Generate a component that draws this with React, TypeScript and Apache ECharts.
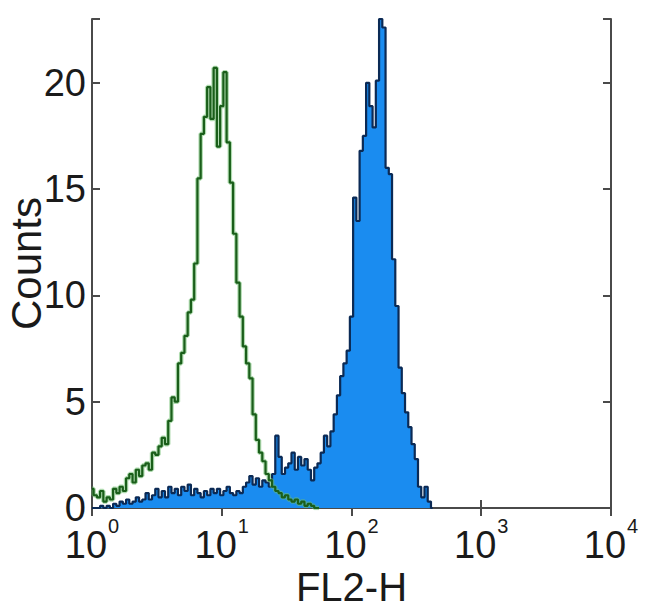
import React, { useEffect, useRef } from "react";
import * as echarts from "echarts";

// Channel grid: FL2-H channels, 40 per decade, starting at 10^0
const CHANNELS_PER_DECADE = 40;

// Isotype control (green outline), counts per channel starting at 10^0
const greenCounts = [
  0.9, 0.6, 0.5, 0.8, 0.3, 0.5, 0.4, 0.9, 0.7, 1.0,
  0.8, 1.4, 1.6, 1.2, 1.8, 1.5, 2.0, 2.1, 1.8, 2.6,
  2.5, 2.9, 3.3, 3.0, 4.1, 5.2, 5.0, 6.8, 7.3, 8.1,
  9.2, 9.8, 11.5, 15.5, 17.6, 18.4, 19.8, 18.3, 20.7, 17.0,
  18.9, 20.5, 17.2, 15.3, 12.9, 10.6, 9.0, 7.6, 6.8, 6.1,
  4.4, 3.2, 2.6, 2.2, 1.6, 1.3, 1.0, 0.8, 0.7, 0.5,
  0.6, 0.4, 0.3, 0.4, 0.2, 0.3, 0.1, 0.2, 0.1, 0, 0,
];

// Stained sample (filled blue), counts per channel starting at 10^0
const blueCounts = [
  0, 0, 0, 0.1, 0, 0.1, 0, 0.2, 0.1, 0.3,
  0.2, 0.4, 0.2, 0.3, 0.5, 0.3, 0.4, 0.7, 0.4, 0.6,
  0.9, 0.5, 0.8, 0.5, 1.0, 0.7, 0.9, 0.6, 1.0, 0.8,
  1.1, 0.6, 0.9, 0.7, 0.5, 0.8, 0.6, 0.9, 0.7, 0.9,
  0.6, 0.8, 1.0, 0.7, 0.6, 0.8, 0.7, 1.0, 1.2, 1.5,
  1.1, 1.4, 1.0, 1.3, 1.2, 1.0, 1.6, 3.4, 2.4, 1.6,
  1.9, 2.1, 2.6, 1.8, 2.4, 2.0, 2.3, 1.8, 1.3, 1.9,
  2.1, 2.6, 3.4, 2.9, 3.6, 4.4, 5.3, 6.2, 6.8, 7.4,
  9.0, 14.6, 13.5, 16.8, 17.5, 20.0, 18.9, 17.9, 20.1, 23.0,
  22.6, 16.0, 15.7, 11.7, 9.5, 6.6, 5.4, 4.5, 3.8, 3.0,
  2.3, 1.0, 0.5, 1.0, 0.3, 0,
];

const yTicks = [0, 5, 10, 15, 20];
const xMin = 1;
const xMax = 10000;
const yMax = 23;

const FONT = "'Liberation Sans', Arial, Helvetica, sans-serif";
const TEXT = "#1a1a1a";
const AXIS = "#4a4a4a";

const toPairs = (counts: number[]) =>
  counts.map((c, i) => [Math.pow(10, i / CHANNELS_PER_DECADE), c]);

export default function App() {
  const ref = useRef<HTMLDivElement>(null);

  useEffect(() => {
    if (!ref.current) return;
    const chart = echarts.init(ref.current, null, { renderer: "svg" });
    const axisLine = { show: true, lineStyle: { color: AXIS, width: 2 } };
    const tick = { show: true, inside: true, length: 8, lineStyle: { color: AXIS, width: 2 } };
    chart.setOption({
      animation: false,
      backgroundColor: "#ffffff",
      grid: {
        left: 92,
        right: 39,
        top: 19,
        bottom: 107,
        containLabel: false,
        outerBoundsMode: "none",
      },
      xAxis: [
        {
          type: "log",
          logBase: 10,
          min: xMin,
          max: xMax,
          interval: 1,
          position: "bottom",
          axisLine,
          axisTick: tick,
          minorTick: { show: false },
          splitLine: { show: false },
          axisLabel: {
            margin: 17,
            hideOverlap: false,
            formatter: (v: number) => `{b|10}{s|${Math.round(Math.log10(v))}}`,
            rich: {
              b: { fontSize: 38, fontFamily: FONT, color: TEXT, lineHeight: 27, padding: [12, 0, 0, 0] },
              s: { fontSize: 20, fontFamily: FONT, color: TEXT, lineHeight: 14, padding: [0, 0, 25, 1] },
            },
          },
          name: "FL2-H",
          nameLocation: "middle",
          nameGap: 59,
          nameMoveOverlap: false,
          nameTextStyle: { fontSize: 40, fontFamily: FONT, color: TEXT },
        },
        {
          type: "log",
          logBase: 10,
          min: xMin,
          max: xMax,
          interval: 1,
          position: "top",
          axisLine,
          axisTick: tick,
          axisLabel: { show: false },
          splitLine: { show: false },
        },
      ],
      yAxis: [
        {
          type: "value",
          min: 0,
          max: yMax,
          interval: 5,
          position: "left",
          axisLine,
          axisTick: tick,
          splitLine: { show: false },
          axisLabel: {
            margin: 6,
            fontSize: 38,
            lineHeight: 28,
            fontFamily: FONT,
            color: TEXT,
            formatter: (v: number) => (yTicks.includes(v) ? String(v) : ""),
          },
          name: "Counts",
          nameLocation: "middle",
          nameGap: 45,
          nameMoveOverlap: false,
          nameTextStyle: { fontSize: 42, fontFamily: FONT, color: TEXT },
        },
        {
          type: "value",
          min: 0,
          max: yMax,
          interval: 5,
          position: "right",
          axisLine,
          axisTick: tick,
          axisLabel: { show: false },
          splitLine: { show: false },
        },
      ],
      series: [
        {
          name: "Stained",
          type: "line",
          step: "middle",
          data: toPairs(blueCounts),
          showSymbol: false,
          symbol: "none",
          lineStyle: { color: "#0b2a55", width: 2.2 },
          areaStyle: { color: "#1a8cf0", opacity: 1 },
          z: 2,
        },
        {
          name: "Isotype halo",
          type: "line",
          step: "middle",
          data: toPairs(greenCounts),
          showSymbol: false,
          symbol: "none",
          lineStyle: { color: "rgba(110,190,110,0.55)", width: 4.5 },
          z: 3,
        },
        {
          name: "Isotype",
          type: "line",
          step: "middle",
          data: toPairs(greenCounts),
          showSymbol: false,
          symbol: "none",
          lineStyle: { color: "#1a5e1a", width: 2.2 },
          z: 4,
        },
      ],
    });
    return () => chart.dispose();
  }, []);

  return (
    <div
      ref={ref}
      style={{ position: "fixed", left: 0, top: 0, width: 650, height: 615, background: "#fff" }}
    />
  );
}
